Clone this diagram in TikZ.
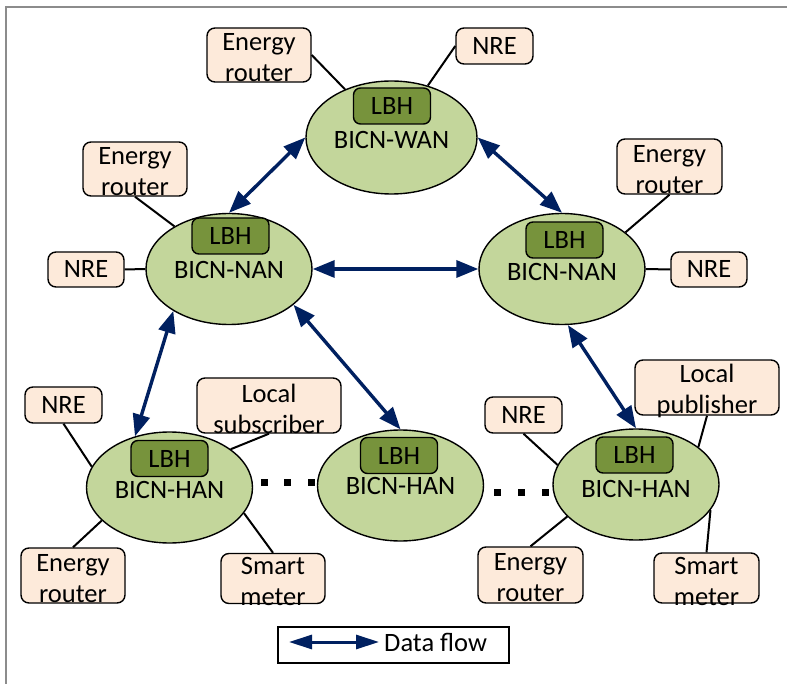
\documentclass[tikz,border=0pt]{standalone}
\usepackage{fontspec}
\setmainfont{Carlito}
\usetikzlibrary{shapes.geometric,arrows.meta}
\definecolor{netgreen}{HTML}{C3D69B}
\definecolor{lbhgreen}{HTML}{77933C}
\definecolor{peach}{HTML}{FDEADA}
\definecolor{navy}{HTML}{002060}
\definecolor{framegray}{HTML}{8C8C8C}
\begin{document}
\begin{tikzpicture}[x=1pt,y=-1pt,
  txt/.style={font=\fontsize{26.5}{31}\selectfont, inner sep=0pt},
  net/.style={ellipse, draw=black, line width=1.4pt, fill=netgreen, inner sep=0pt, minimum width=166pt, minimum height=111pt},
  lbh/.style={rectangle, rounded corners=7pt, draw=black, line width=1.4pt, fill=lbhgreen, inner sep=0pt, minimum width=77pt, minimum height=36pt, font=\fontsize{26.5}{31}\selectfont},
  dev/.style={rectangle, rounded corners=8pt, draw=black, line width=1.4pt, fill=peach, inner sep=0pt, font=\fontsize{26.5}{31}\selectfont},
  twoline/.style={txt, align=center, yshift=-3pt},
  link/.style={draw=black, line width=2pt},
  flow/.style={draw=navy, line width=3.4pt, arrows={Triangle[length=22pt,width=17pt]-Triangle[length=22pt,width=17pt]}},
  legflow/.style={draw=navy, line width=3pt, arrows={Triangle[length=23pt,width=14pt]-Triangle[length=23pt,width=14pt]}}
]
\useasboundingbox (0,0) rectangle (787,684);
\fill[white] (0,0) rectangle (787,684);
\draw[framegray, line width=1.5pt] (6,684) -- (6,7) -- (787,7);

% network ellipses
\node[net, minimum width=171pt, minimum height=113pt] (wan) at (391.5,137.5) {};
\node[net] (nanL) at (229,269) {};
\node[net] (nanR) at (562,269) {};
\node[net] (hanL) at (169.5,487.5) {};
\node[net] (hanM) at (400.5,485.5) {};
\node[net] (hanR) at (636,484.5) {};

% LBH boxes
\node[lbh] (lbhW) at (392,106) {LBH};
\node[lbh] (lbhNL) at (230.5,236) {LBH};
\node[lbh] (lbhNR) at (564.5,240) {LBH};
\node[lbh] (lbhHL) at (169.5,458.5) {LBH};
\node[lbh] (lbhHM) at (399,455.5) {LBH};
\node[lbh] (lbhHR) at (634.5,455) {LBH};

% network labels
\node[txt] (wanT) at (391.5,140) {BICN-WAN};
\node[txt] (nanLT) at (229,270) {BICN-NAN};
\node[txt] (nanRT) at (562,272) {BICN-NAN};
\node[txt] (hanLT) at (169.5,490) {BICN-HAN};
\node[txt] (hanMT) at (400.5,486) {BICN-HAN};
\node[txt] (hanRT) at (636,488.5) {BICN-HAN};

% device boxes
\node[dev, minimum width=104pt, minimum height=54pt] (erW) at (259,55) {};
\node[twoline] (erWT) at (erW.center) {Energy\\router};
\node[dev, minimum width=77pt, minimum height=36pt] (nreW) at (494.5,46) {NRE};

\node[dev, minimum width=104pt, minimum height=54pt] (erL) at (135,169) {};
\node[twoline] (erLT) at (erL.center) {Energy\\router};
\node[dev, minimum width=76pt, minimum height=35pt] (nreL) at (86,269.5) {NRE};

\node[dev, minimum width=105pt, minimum height=55pt] (erR) at (669.5,166.5) {};
\node[twoline] (erRT) at (erR.center) {Energy\\router};
\node[dev, minimum width=76pt, minimum height=35pt] (nreR) at (709,269.5) {NRE};

\node[dev, minimum width=77pt, minimum height=36pt] (nreHL) at (63.5,405) {NRE};
\node[dev, minimum width=144pt, minimum height=55pt] (sub) at (269,405.5) {};
\node[twoline] (subT) at (sub.center) {Local\\subscriber};
\node[dev, minimum width=104pt, minimum height=55pt] (erHL) at (73,575.5) {};
\node[twoline] (erHLT) at (erHL.center) {Energy\\router};
\node[dev, minimum width=104pt, minimum height=50pt] (smHL) at (273,578.5) {};
\node[twoline] (smHLT) at (smHL.center) {Smart\\meter};

\node[dev, minimum width=77pt, minimum height=36pt] (nreHR) at (523.5,415) {NRE};
\node[dev, minimum width=144pt, minimum height=55pt] (pub) at (707,387.5) {};
\node[twoline] (pubT) at (pub.center) {Local\\publisher};
\node[dev, minimum width=105pt, minimum height=56pt] (erHR) at (530.5,575) {};
\node[twoline] (erHRT) at (erHR.center) {Energy\\router};
\node[dev, minimum width=105pt, minimum height=50pt] (smHR) at (706.5,578) {};
\node[twoline] (smHRT) at (smHR.center) {Smart\\meter};

% black links
\draw[link] (erW.east) -- (wan.134);
\draw[link] (nreW.west) -- (wan.55);
\draw[link] (erL.south) -- (nanL.142);
\draw[link] (nreL.east) -- (nanL.west);
\draw[link] (erR.south) -- (nanR.30);
\draw[link] (nanR.east) -- (nreR.west);
\draw[link] (nreHL.south) -- (hanL.165);
\draw[link] (sub.south) -- (hanL.32);
\draw[link] (erHL.north) -- (hanL.206);
\draw[link] (smHL.north) -- (hanL.341);
\draw[link] (nreHR.south) -- (hanR.166);
\draw[link] (pub.south) -- (hanR.31);
\draw[link] (erHR.north) -- (hanR.205);
\draw[link] (smHR.north) -- (hanR.341);

% data flow arrows
\draw[flow] (wan.west) -- (nanL.north);
\draw[flow] (wan.east) -- (nanR.north);
\draw[flow] (nanL.east) -- (nanR.west);
\draw[flow] (nanL.217) -- (hanL.124);
\draw[flow] (nanL.331) -- (hanM.north);
\draw[flow] (nanR.276) -- (hanR.north);

% ellipsis dots
\foreach \dx in {264.5,287.5,311.5} \fill[black] (\dx-3.5,478.5) rectangle (\dx+3.5,485.5);
\foreach \dx in {497.5,521.5,545} \fill[black] (\dx-3.5,489) rectangle (\dx+3.5,496);

% legend
\node[draw=black, line width=1.2pt, fill=white, minimum width=231pt, minimum height=36pt, inner sep=0pt] (legend) at (393.5,645) {};
\coordinate (legA) at (289,642);
\coordinate (legB) at (379,642);
\draw[legflow] (legA) -- (legB);
\node[txt, anchor=west] (legT) at (384,642.5) {Data flow};
\end{tikzpicture}
\end{document}
